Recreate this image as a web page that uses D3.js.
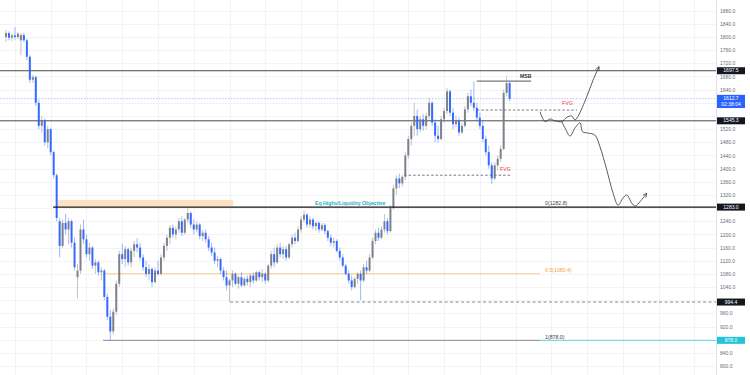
<!DOCTYPE html>
<html>
<head>
<meta charset="UTF-8">
<script src="https://cdn.jsdelivr.net/npm/d3@7"></script>
<style>
  body { margin: 0; background: #fff; }
  svg { display: block; font-family: "Liberation Sans", Arial, sans-serif; }
</style>
</head>
<body>
<svg id="chart" width="750" height="375"></svg>
<script>

// ---- candles (bar index = position in array) ----
const opens = [
  1800,1812,1798,1805,1800,1790,1806,1790,1740,1670, 1678,1600,1530,1545,1480,1520,1450,1380,1240,1165,
  1235,1215,1240,1175,1070,1090,1215,1185,1140,1160, 1105,1115,1085,1090,1010, 950, 905, 965,1050,1140,
  1125,1155,1115,1150,1170,1160,1130,1100,1080,1095, 1055,1090,1080,1130,1165,1190,1220,1200,1215,1240,
  1205,1245,1265,1230,1215,1230,1195,1205,1185,1160, 1145,1120,1125,1090,1070,1045,1060,1080,1050,1070,
  1045,1065,1055,1075,1060,1085,1070,1080,1060,1105, 1140,1115,1160,1140,1155,1130,1170,1190,1180,1215,
  1245,1260,1230,1245,1225,1235,1215,1228,1210,1190, 1175,1180,1150,1130,1105,1080,1060,1040,1065,1080,
  1060,1100,1090,1130,1180,1205,1190,1215,1240,1210, 1280,1340,1370,1355,1375,1440,1490,1530,1560,1520,
  1550,1530,1560,1600,1540,1500,1490,1550,1575,1635, 1570,1535,1545,1510,1530,1580,1620,1600,1585,1555,
  1530,1490,1450,1410,1370,1410,1430,1460,1630,1660
];
const highs = [
  1822,1818,1810,1830,1815,1812,1812,1795,1745,1685, 1682,1610,1560,1552,1530,1525,1455,1385,1250,1245,
  1262,1250,1245,1190,1110,1230,1245,1200,1175,1165, 1125,1120,1100,1095,1020, 970, 975,1060,1150,1172,
  1165,1160,1160,1180,1188,1175,1140,1120,1110,1100, 1100,1120,1140,1175,1200,1228,1230,1225,1250,1255,
  1250,1279,1270,1245,1240,1235,1215,1215,1195,1175, 1160,1135,1130,1100,1090,1065,1090,1085,1075,1085,
  1070,1075,1080,1085,1090,1090,1095,1085,1110,1150, 1160,1170,1175,1165,1165,1175,1200,1205,1225,1255,
  1273,1265,1255,1250,1240,1240,1235,1235,1215,1200, 1190,1185,1160,1140,1110,1090,1075,1070,1085,1090,
  1110,1120,1140,1190,1215,1220,1225,1262,1250,1290, 1350,1380,1385,1380,1450,1500,1540,1600,1580,1560,
  1565,1570,1615,1605,1550,1530,1560,1585,1645,1640, 1585,1560,1555,1540,1590,1630,1640,1665,1600,1570,
  1545,1500,1470,1420,1420,1440,1470,1640,1680,1665
];
const lows = [
  1785,1790,1788,1792,1795,1745,1785,1730,1660,1660, 1590,1520,1510,1470,1462,1440,1370,1240,1130,1160,
  1200,1170,1160,1090,1005,1080,1170,1130,1120,1095, 1080,1075,1060,1000, 940, 878, 895, 955,1040,1110,
  1100,1105,1100,1130,1145,1120,1090,1070,1060,1040, 1050,1075,1075,1120,1150,1170,1190,1185,1205,1195,
  1200,1235,1220,1200,1205,1185,1180,1175,1150,1135, 1110,1100,1080,1060,1030, 994,1040,1045,1035,1040,
  1040,1045,1040,1050,1055,1060,1055,1050,1055,1095, 1100,1110,1130,1125,1120,1125,1160,1170,1175,1205,
  1235,1220,1220,1215,1210,1205,1210,1200,1180,1165, 1160,1145,1120,1100,1075,1050,1030,1035,1050,1000,
  1055,1080,1085,1125,1170,1180,1185,1205,1200,1205, 1275,1320,1340,1345,1365,1430,1470,1500,1500,1510,
  1515,1520,1550,1530,1480,1480,1485,1540,1565,1560, 1520,1525,1500,1505,1525,1570,1590,1575,1545,1520,
  1480,1440,1400,1353,1365,1395,1420,1455,1620,1605
];
const closes = [
  1812,1798,1805,1800,1810,1806,1790,1740,1670,1678, 1600,1530,1545,1480,1520,1450,1380,1250,1165,1235,
  1215,1240,1175,1100,1090,1215,1185,1140,1160,1105, 1115,1085,1090,1010, 950, 905, 965,1050,1140,1125,
  1155,1115,1150,1170,1160,1130,1100,1080,1095,1055, 1090,1080,1130,1165,1190,1220,1200,1215,1240,1205,
  1245,1265,1230,1215,1230,1195,1205,1185,1160,1145, 1120,1125,1090,1070,1045,1060,1080,1050,1070,1045,
  1065,1055,1075,1060,1085,1070,1080,1060,1105,1140, 1115,1160,1140,1155,1130,1170,1190,1180,1215,1245,
  1260,1230,1245,1225,1235,1215,1228,1210,1190,1175, 1180,1150,1130,1105,1080,1060,1040,1065,1080,1060,
  1100,1090,1130,1180,1205,1190,1215,1240,1210,1280, 1340,1370,1355,1375,1440,1490,1530,1560,1520,1550,
  1530,1560,1600,1540,1500,1490,1550,1575,1635,1570, 1535,1545,1510,1530,1580,1620,1600,1585,1555,1530,
  1490,1450,1410,1370,1410,1430,1460,1630,1660,1612.7
];

// ---- price scale ----
const priceTicks = d3.range(800, 1881, 40);
const lastPrice = 1612.7;
const countdown = "02:38:04";

// levels
const blackLevels = [1697.5, 1545.3];
const eqHighs = 1283.0;
const sweepLow = 994.4;
const fibPrices = [1282.8, 1080.4, 878.0];
const fibNames = ["0", "0.5", "1"];
const eqBox = [1305, 1285];   // zone top/bottom
const msbPrice = 1666;
const fvgUpper = 1578;
const fvgLower = 1380;

// projected paths [bar, price]
const pathUp = [
  [179.2,1573],[180.9,1543],[182.6,1551],[184.2,1545],[186.5,1543],[188.2,1556],
  [189.8,1560],[190.9,1548],[191.9,1558],[194.9,1619],[197.0,1669],[199.0,1710]
];
const pathDown = [
  [186.5,1543],[187.6,1523],[189.3,1499],[190.9,1523],[192.6,1539],[193.5,1512],
  [195.3,1508],[197.6,1502],[199.3,1467],[201.6,1396],[203.7,1326],[205.4,1289],
  [207.0,1310],[208.3,1320],[210.0,1295],[211.1,1286],[212.8,1300],[215.0,1325]
];

//========================================================================//
const axisX = 716;
const upCol = "#767982", dnCol = "#2962ff";

const x = d3.scaleLinear().domain([0, 238]).range([6, 715.24]);
const y = d3.scaleLinear().domain([800, 1880]).range([366, 10.7]);
const svg = d3.select("#chart");

svg.append("rect").attr("width", 750).attr("height", 375).attr("fill", "#fff");

// grid
const grid = svg.append("g");
grid.selectAll(".gh").data(priceTicks).join("line")
    .attr("x1", 0).attr("x2", axisX)
    .attr("y1", d => Math.round(y(d)) + 0.5).attr("y2", d => Math.round(y(d)) + 0.5)
    .attr("stroke", "#f2f3f7");
grid.selectAll(".gv").data(d3.range(3, 238, 12)).join("line")
    .attr("x1", d => Math.round(x(d)) + 0.5).attr("x2", d => Math.round(x(d)) + 0.5)
    .attr("y1", 0).attr("y2", 375)
    .attr("stroke", "#f2f3f7");

// zone box
svg.append("rect")
    .attr("x", x(17.4)).attr("width", x(76.2) - x(17.4))
    .attr("y", y(eqBox[0])).attr("height", y(eqBox[1]) - y(eqBox[0]))
    .attr("fill", "#fddcb5").attr("opacity", 0.85);

// horizontal levels
function hline(p, i0, i1, col, w, dash) {
    const l = svg.append("line")
        .attr("x1", x(i0)).attr("x2", i1 == null ? axisX : x(i1))
        .attr("y1", y(p)).attr("y2", y(p))
        .attr("stroke", col).attr("stroke-width", w);
    if (dash) l.attr("stroke-dasharray", dash);
    return l;
}
blackLevels.forEach(p => hline(p, -2, null, "#4a4a4a", 1));
hline(lastPrice, -2, null, "#9fb7f7", 0.8, "1.5,1.5");
hline(fibPrices[1], 32.6, 179.2, "#f8c98d", 1);
hline(fibPrices[2], 32.6, 179.2, "#8a8a8a", 1);
hline(fibPrices[2], 179.2, null, "#5fd3e3", 1);
hline(sweepLow, 75.2, null, "#777", 0.9, "3,2.5");
hline(fvgUpper, 158, 191.6, "#555", 0.8, "2.5,2");
hline(fvgLower, 133.6, 169.8, "#555", 0.8, "2.5,2");
hline(msbPrice, 158, 176.2, "#444", 0.9);

// candles
const bars = closes.map((c, i) => ({ i, o: opens[i], h: highs[i], l: lows[i], c }));
const cg = svg.append("g");
cg.selectAll(".wick").data(bars).join("line")
    .attr("x1", d => x(d.i)).attr("x2", d => x(d.i))
    .attr("y1", d => y(d.h)).attr("y2", d => y(d.l))
    .attr("stroke", d => d.c >= d.o ? upCol : dnCol)
    .attr("stroke-opacity", 0.45).attr("stroke-width", 1);
cg.selectAll(".body").data(bars).join("rect")
    .attr("x", d => x(d.i) - 1).attr("width", 2)
    .attr("y", d => y(Math.max(d.o, d.c)))
    .attr("height", d => Math.max(1, Math.abs(y(d.o) - y(d.c))))
    .attr("fill", d => d.c >= d.o ? upCol : dnCol)
    .attr("fill-opacity", 0.92);

// equal highs line over candles
hline(eqHighs, 15.8, null, "#151515", 1.4);

// projections
svg.append("defs").append("marker")
    .attr("id", "arr").attr("viewBox", "0 0 6 6")
    .attr("refX", 5).attr("refY", 3)
    .attr("markerWidth", 5).attr("markerHeight", 5)
    .attr("markerUnits", "userSpaceOnUse").attr("orient", "auto")
  .append("path").attr("d", "M0,0.6 L5,3 L0,5.4")
    .attr("fill", "none").attr("stroke", "#333").attr("stroke-width", 0.8);
const line = d3.line().x(d => x(d[0])).y(d => y(d[1])).curve(d3.curveCatmullRom);
[pathUp, pathDown].forEach(p => svg.append("path")
    .attr("d", line(p)).attr("fill", "none")
    .attr("stroke", "#333").attr("stroke-width", 0.8)
    .attr("marker-end", "url(#arr)"));

// texts
function label(txt, i, p, dy, col, bold) {
    svg.append("text").attr("x", x(i)).attr("y", y(p) + dy)
        .attr("font-size", 5.2).attr("fill", col)
        .attr("font-weight", bold ? "bold" : "normal")
        .attr("dominant-baseline", "middle").text(txt);
}
fibPrices.forEach((p, k) =>
    label(fibNames[k] + "(" + p.toFixed(1) + ")", 180.9, p, -3.2, k === 1 ? "#f2a33c" : "#444"));
label("Eq Highs/Liquidity Objective", 103.7, eqHighs, -3.2, "#1fb0c4", true);
label("MSB", 172.5, msbPrice, -4, "#333", true);
label("FVG", 186.6, fvgUpper, -6, "#f23645", false);
label("FVG", 165.8, fvgLower, -6, "#f23645", false);

// price axis
svg.append("line").attr("x1", axisX + 0.5).attr("x2", axisX + 0.5)
    .attr("y1", 0).attr("y2", 375).attr("stroke", "#e0e3eb");

// tags on the axis; tick labels under a tag are hidden like the original
const tags = [
    [blackLevels[0], "#131722"], [blackLevels[1], "#131722"], [eqHighs, "#131722"],
    [sweepLow, "#131722"], [fibPrices[2], "#22c4d8"]
];
const tagPrices = tags.map(t => t[0]).concat([lastPrice]);
const shownTicks = priceTicks.filter(t => {
    if (Math.abs(y(t) - y(lastPrice) - 2.8) < 9.5) return false;
    return tagPrices.every(p => Math.abs(y(t) - y(p)) > 5.5);
});
const ax = svg.append("g").attr("transform", `translate(${axisX},0)`)
    .call(d3.axisRight(y).tickValues(shownTicks).tickSize(0).tickPadding(4)
        .tickFormat(d3.format(".1f")));
ax.select(".domain").remove();
ax.selectAll("text").attr("font-size", 5).attr("fill", "#6a6d78")
    .attr("font-family", "Liberation Sans, Arial, sans-serif");

tags.forEach(([p, col]) => {
    svg.append("rect").attr("x", axisX + 1).attr("width", 28)
        .attr("y", y(p) - 3.5).attr("height", 7).attr("fill", col);
    svg.append("text").attr("x", axisX + 15).attr("y", y(p) + 0.2)
        .attr("text-anchor", "middle").attr("dominant-baseline", "middle")
        .attr("font-size", 5).attr("fill", "#fff").text(p.toFixed(1));
});
svg.append("rect").attr("x", axisX + 1).attr("width", 28)
    .attr("y", y(lastPrice) - 3.8).attr("height", 13.2).attr("fill", "#2962ff");
svg.append("text").attr("x", axisX + 15).attr("y", y(lastPrice) + 0.2)
    .attr("text-anchor", "middle").attr("dominant-baseline", "middle")
    .attr("font-size", 5).attr("fill", "#fff").text(lastPrice.toFixed(1));
svg.append("text").attr("x", axisX + 15).attr("y", y(lastPrice) + 6)
    .attr("text-anchor", "middle").attr("dominant-baseline", "middle")
    .attr("font-size", 5).attr("fill", "#fff").text(countdown);

</script>
</body>
</html>
